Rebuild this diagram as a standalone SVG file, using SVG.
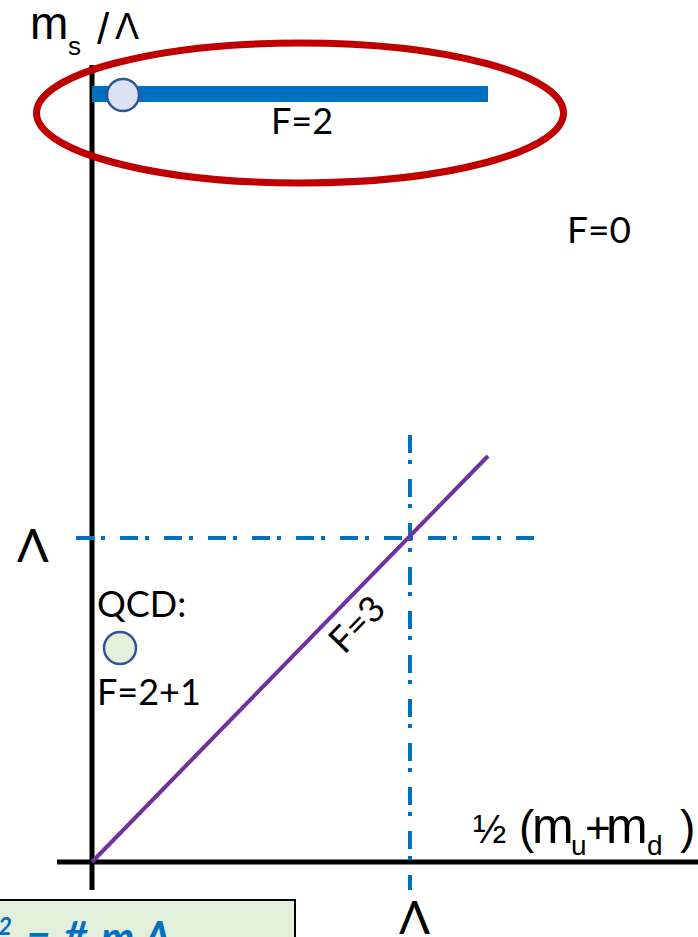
<svg xmlns="http://www.w3.org/2000/svg" width="698" height="937" viewBox="0 0 698 937">
<style>
text { font-family: Lato, "Liberation Sans", sans-serif; fill: #000; }
.ls { font-family: "Liberation Sans", Arial, sans-serif; }
.lbl { font-size: 36px; }
.fx { font-weight: bold; font-style: italic; fill: #0070C0; font-size: 42px; }
.axis { stroke: #000; stroke-width: 5; fill: none; }
.dd { stroke: #0070C0; stroke-width: 4; stroke-dasharray: 18 7 4 15; fill: none; }
</style>
<rect x="0" y="0" width="698" height="937" fill="#fff"/>
<g id="axes">
  <line class="axis" x1="92" y1="65" x2="92" y2="890"/>
  <line class="axis" x1="57" y1="862" x2="698" y2="862"/>
</g>
<g id="connectors">
  <line class="dd" x1="76" y1="538" x2="535" y2="538"/>
  <line class="dd" x1="410" y1="435" x2="410" y2="890"/>
  <line x1="92" y1="862" x2="488" y2="456" stroke="#7030A0" stroke-width="4"/>
</g>
<g id="f2-line">
  <rect x="92" y="86" width="396" height="16" fill="#0070C0"/>
  <circle cx="123" cy="95" r="16" fill="#DAE3F3" stroke="#2F5597" stroke-width="2.5"/>
  <text class="lbl" x="271" y="134">F=2</text>
</g>
<g id="highlight">
  <ellipse cx="300" cy="113" rx="263.5" ry="70" fill="none" stroke="#C00000" stroke-width="7"/>
</g>
<g id="f0">
  <text x="567" y="243" font-size="37">F=0</text>
</g>
<g id="qcd">
  <text class="lbl" x="97" y="617">QCD:</text>
  <circle cx="120" cy="648" r="16" fill="#E2EFDA" stroke="#2F5597" stroke-width="2.5"/>
  <text class="lbl" x="97" y="705">F=2+1</text>
</g>
<g id="f3">
  <text class="lbl" x="366" y="633" text-anchor="middle" transform="rotate(-45.7 366 633)">F=3</text>
</g>
<g id="y-label">
  <text class="ls" x="30" y="39" font-size="46">m</text>
  <text class="ls" x="68" y="55" font-size="26">s</text>
  <text class="ls" x="97" y="44" font-size="44">/</text>
  <text class="ls" x="115" y="39" font-size="36">Λ</text>
</g>
<g id="lambda-labels">
  <text x="17" y="562" font-size="47">Λ</text>
  <text x="399" y="934" font-size="46">Λ</text>
</g>
<g id="x-label">
  <text class="ls" x="473" y="843" font-size="40">½</text>
  <text class="ls" x="519" y="843" font-size="46">(</text>
  <text class="ls" x="532" y="843" font-size="50">m</text>
  <text class="ls" x="571" y="855" font-size="28">u</text>
  <text class="ls" x="585" y="843" font-size="44">+</text>
  <text class="ls" x="606" y="843" font-size="50">m</text>
  <text class="ls" x="647" y="855" font-size="28">d</text>
  <text class="ls" x="680" y="843" font-size="46">)</text>
</g>
<g id="formula-box">
  <rect x="-3" y="900" width="298" height="50" fill="#E2EFDA" stroke="#000" stroke-width="2"/>
  <text class="fx" x="-2" y="935" font-size="24" style="font-size:24px">2</text>
  <text class="fx" x="26" y="953">=</text>
  <text class="fx" x="63" y="952">#</text>
  <text class="fx" x="101" y="952">m</text>
  <text class="fx" x="144" y="952">Λ</text>
</g>
</svg>
